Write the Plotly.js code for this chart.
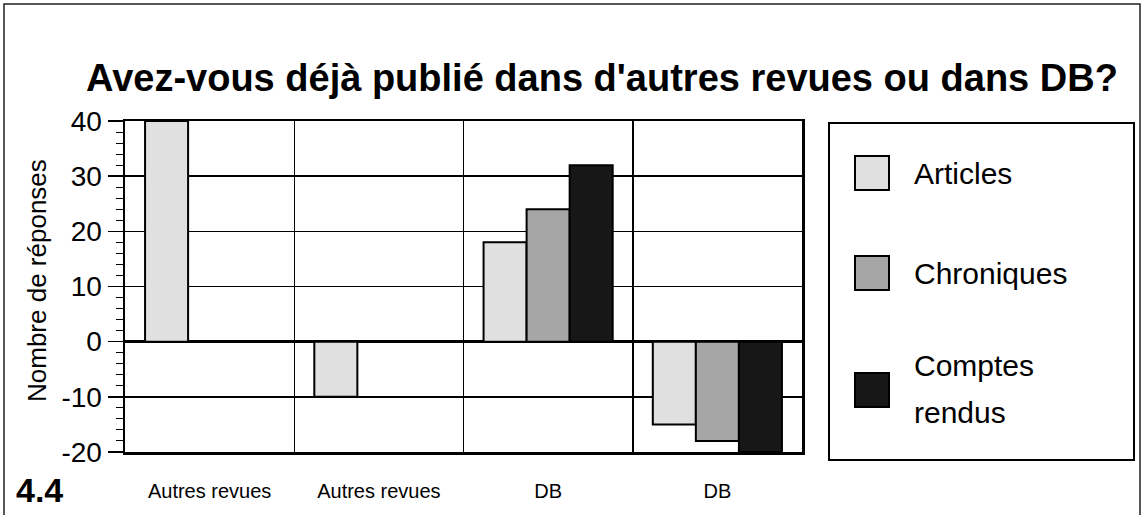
<!DOCTYPE html>
<html>
<head>
<meta charset="utf-8">
<script src="https://cdn.plot.ly/plotly-3.0.1.min.js"></script>
<style>html,body{margin:0;padding:0;background:#fff;}#chart{width:1146px;height:515px;}</style>
</head>
<body>
<div id="chart"></div>
<script>
// ---- data ----
const categories = ['Autres revues', 'Autres revues', 'DB', 'DB'];
const categoryIds = ['c1', 'c2', 'c3', 'c4'];
const seriesNames = ['Articles', 'Chroniques', 'Comptes rendus'];
const legendLabelLines = [['Articles'], ['Chroniques'], ['Comptes', 'rendus']];
const articles = [40, -10, 18, -15];
const chroniques = [0, 0, 24, -18];
const comptesRendus = [0, 0, 32, -20];
const yTickValues = [-20, -10, 0, 10, 20, 30, 40];
const yTickLabels = ['-20', '-10', '0', '10', '20', '30', '40'];
const chartTitle = "Avez-vous déjà publié dans d'autres revues ou dans DB?";
const yTitle = 'Nombre de réponses';
const figureLabel = '4.4';

// ---- styling ----
const W = 1146, H = 515;
const M = {l: 125, r: 344, t: 121, b: 63};
const PW = W - M.l - M.r, PH = H - M.t - M.b;
const px = x => (x - M.l) / PW;
const py = y => (H - M.b - y) / PH;
const FONT = 'Liberation Sans, Arial, Helvetica, sans-serif';
const fills = ['#e0e0e0', '#a6a6a6', '#171717'];
const values = [articles, chroniques, comptesRendus];

const traces = values.map((v, i) => ({
  type: 'bar',
  name: seriesNames[i],
  x: categoryIds,
  y: v,
  marker: {color: fills[i], line: {color: '#000', width: 2}},
  showlegend: false,
  hoverinfo: 'name+y'
}));

const shapes = [
  // outer frame (bottom edge runs off the page, as in the scan)
  {type: 'rect', xref: 'paper', yref: 'paper', x0: px(4), x1: px(1140), y0: py(4), y1: py(530),
   line: {color: '#222', width: 1.5}, fillcolor: 'rgba(0,0,0,0)', layer: 'below'},
  // legend box
  {type: 'rect', xref: 'paper', yref: 'paper', x0: px(829), x1: px(1134), y0: py(123), y1: py(460),
   line: {color: '#000', width: 2}, fillcolor: 'rgba(0,0,0,0)'}
];
const annotations = [
  {xref: 'paper', yref: 'paper', x: px(40), y: py(490), text: '<b>' + figureLabel + '</b>',
   showarrow: false, xanchor: 'center', yanchor: 'middle', font: {family: FONT, size: 34, color: '#000'}},
  {xref: 'paper', yref: 'paper', x: px(37), y: py(281), text: yTitle, textangle: -90,
   showarrow: false, xanchor: 'center', yanchor: 'middle', font: {family: FONT, size: 26, color: '#000'}}
];
const swatchY = [173, 273, 390];
const labelY = [[173], [273], [365, 412]];
seriesNames.forEach((n, i) => {
  shapes.push({type: 'rect', xref: 'paper', yref: 'paper',
    x0: px(855), x1: px(889), y0: py(swatchY[i] - 17), y1: py(swatchY[i] + 17),
    line: {color: '#000', width: 2}, fillcolor: fills[i]});
  legendLabelLines[i].forEach((line, j) => {
    annotations.push({xref: 'paper', yref: 'paper', x: px(912), y: py(labelY[i][j]), text: line,
      showarrow: false, xanchor: 'left', yanchor: 'middle', align: 'left',
      font: {family: FONT, size: 30, color: '#000'}});
  });
});

const layout = {
  width: W, height: H,
  margin: {l: M.l, r: M.r, t: M.t, b: M.b, autoexpand: false},
  paper_bgcolor: '#fff', plot_bgcolor: '#fff',
  font: {family: FONT, color: '#000'},
  title: {text: '<b>' + chartTitle + '</b>', font: {family: FONT, size: 38, color: '#000'},
          x: 602 / W, xref: 'container', xanchor: 'center', y: 1 - 78 / H, yref: 'container', yanchor: 'middle'},
  barmode: 'group', bargap: 0.237, bargroupgap: 0,
  xaxis: {
    type: 'category', tickvals: categoryIds, ticktext: categories, tickson: 'boundaries',
    range: [-0.5, 3.5], showgrid: true, gridcolor: '#000', gridwidth: 1.5,
    ticks: '', ticklabelstandoff: 19, tickfont: {family: FONT, size: 20, color: '#000'},
    showline: true, mirror: true, linecolor: '#000', linewidth: 2.5, zeroline: false, fixedrange: true
  },
  yaxis: {
    range: [-20, 40], tickvals: yTickValues, ticktext: yTickLabels,
    ticks: 'outside', ticklen: 15, tickwidth: 1.5, tickcolor: '#000',
    tickfont: {family: FONT, size: 28, color: '#000'},
    minor: {dtick: 2, ticks: 'outside', ticklen: 7, tickwidth: 1, tickcolor: '#000', showgrid: false},
    showgrid: true, gridcolor: '#000', gridwidth: 1.5,
    zeroline: true, zerolinecolor: '#000', zerolinewidth: 2.5,
    showline: true, mirror: true, linecolor: '#000', linewidth: 2.5, fixedrange: true
  },
  shapes: shapes,
  annotations: annotations
};

Plotly.newPlot('chart', traces, layout, {displayModeBar: false, staticPlot: true});
</script>
</body>
</html>
